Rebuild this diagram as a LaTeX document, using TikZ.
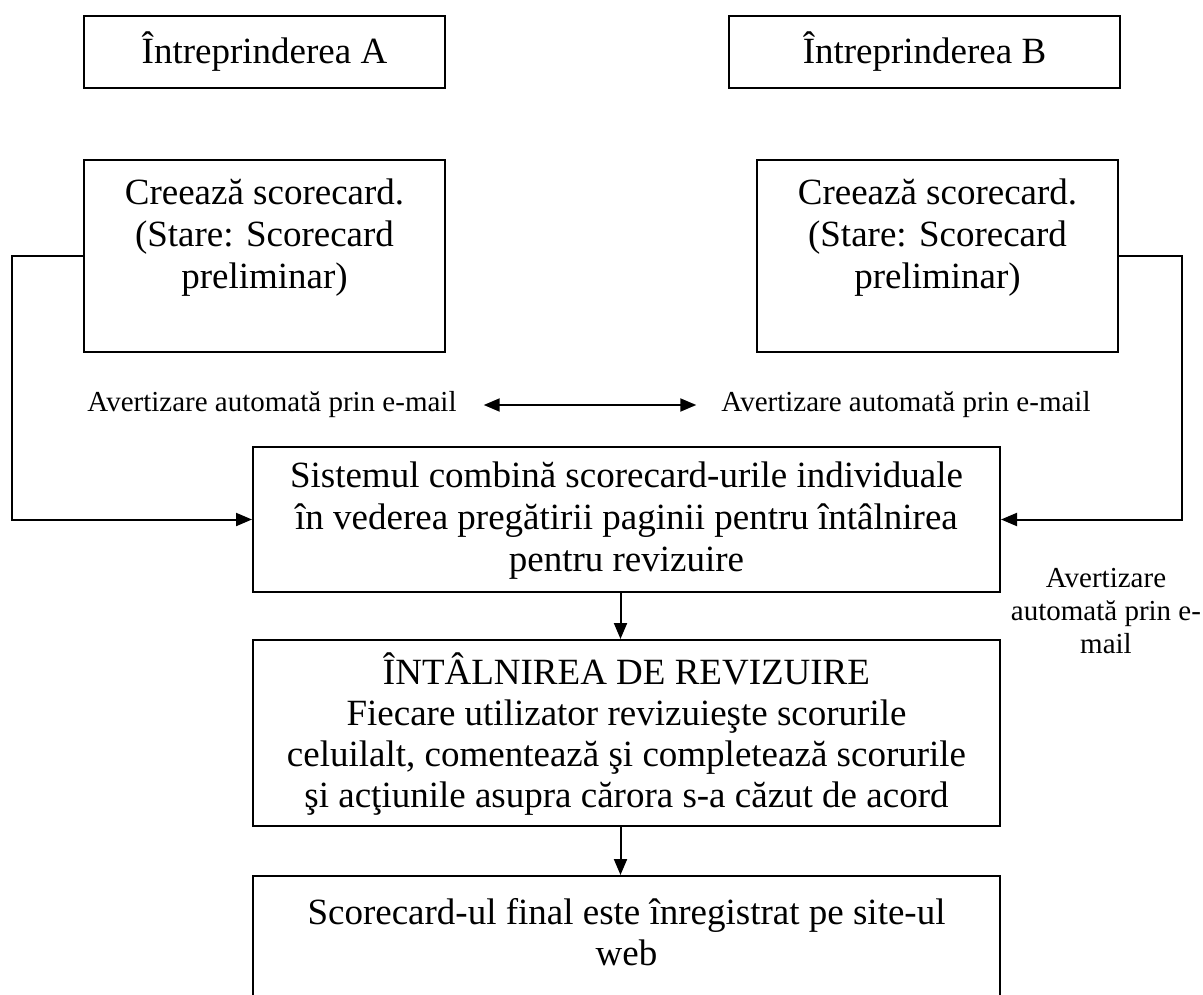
\documentclass[tikz,border=0pt]{standalone}
\usepackage{fontspec}
\setmainfont{Liberation Serif}
\usetikzlibrary{arrows.meta}
\begin{document}
\begin{tikzpicture}[x=1pt,y=-1pt,
  frame/.style 2 args={draw, line width=2pt, inner sep=0pt,
    minimum width=#1pt, minimum height=#2pt},
  bigtxt/.style={inner sep=0pt, align=center, font=\fontsize{37}{42}\selectfont},
  tighttxt/.style={inner sep=0pt, align=center, font=\fontsize{37}{41}\selectfont},
  smalltxt/.style={inner sep=0pt, align=center, font=\fontsize{29}{33}\selectfont},
  conn/.style={line width=2pt, -{Triangle[length=16pt,width=13pt]}},
  dblconn/.style={line width=2pt, {Triangle[length=16pt,width=13pt]}-{Triangle[length=16pt,width=13pt]}}]
\useasboundingbox (0,0) rectangle (1203,995);
\clip (0,0) rectangle (1203,995);

% enterprise headers
\node[frame={361}{72}] (ia) at (264.5,52) {};
\node[frame={391}{72}] (ib) at (924.5,52) {};
\node[bigtxt] (iat) at (ia) {Întreprinderea A};
\node[bigtxt] (ibt) at (ib) {Întreprinderea B};

% draft scorecards
\node[frame={361}{192}] (ca) at (264.5,256) {};
\node[frame={361}{192}] (cb) at (937.5,256) {};
\node[bigtxt] (cat) at (264.5,238) {Creează scorecard.\\(Stare: Scorecard\\preliminar)};
\node[bigtxt] (cbt) at (937.5,238) {Creează scorecard.\\(Stare: Scorecard\\preliminar)};

% combining step, review meeting and result
\node[frame={747}{145}] (sys) at (626.5,519.5) {};
\node[frame={747}{186}] (meet) at (626.5,733) {};
\node[frame={747}{140}] (fin) at (626.5,946) {};

\begin{scope}
  \clip (sys.north west) rectangle ([yshift=15pt]sys.south east);
  \node[bigtxt] (syst) at (626.5,521) {Sistemul combină scorecard-urile individuale\\în vederea pregătirii paginii pentru întâlnirea\\pentru revizuire};
\end{scope}
\node[tighttxt] (meett) at (626.5,734) {ÎNTÂLNIREA DE REVIZUIRE\\Fiecare utilizator revizuieşte scorurile\\celuilalt, comentează şi completează scorurile\\şi acţiunile asupra cărora s-a căzut de acord};
\node[tighttxt] (fint) at (626.5,932.5) {Scorecard-ul final este înregistrat pe site-ul\\web};

% e-mail notices
\node[smalltxt] (la) at (272,405) {Avertizare automată prin e-mail};
\node[smalltxt] (lb) at (906,405) {Avertizare automată prin e-mail};
\node[smalltxt] (lr) at (1106,611) {Avertizare\\automată prin e-\\mail};

% connectors
\draw[dblconn] ([xshift=27pt]la.east) -- ([xshift=-25pt]lb.west);
\draw[conn] (ca.west) -- ++(-71,0) |- (sys.west);
\draw[conn] (cb.east) -- ++(63,0) |- (sys.east);
\draw[conn] ([xshift=-6pt]sys.south) -- ([xshift=-6pt]meet.north);
\draw[conn] ([xshift=-6pt]meet.south) -- ([xshift=-6pt]fin.north);
\end{tikzpicture}
\end{document}
